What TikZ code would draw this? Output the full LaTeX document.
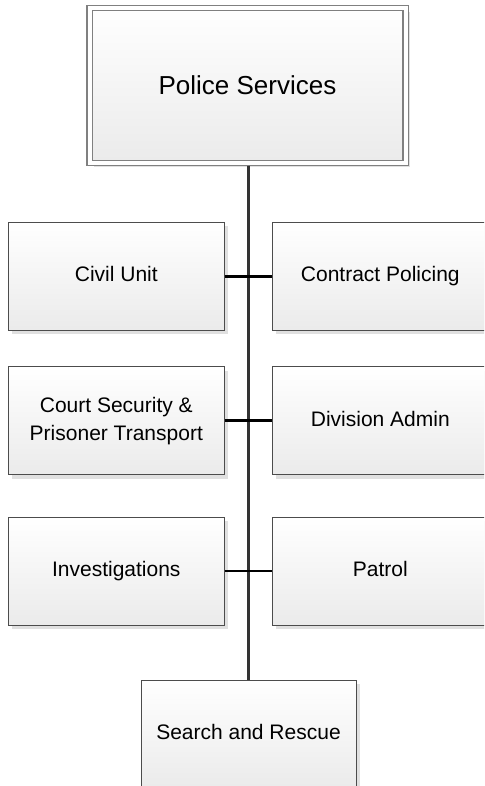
\documentclass[tikz,border=0pt]{standalone}
\usepackage{fontspec}
\setmainfont{Liberation Sans}
\usetikzlibrary{positioning, shadows, calc}

\tikzset{
  unit/.style={draw=black!70, line width=1pt, top color=white, bottom color=black!8,
    minimum width=216pt, minimum height=108pt, inner sep=0pt, align=center,
    font=\fontsize{21}{28}\selectfont, text depth=4pt,
    drop shadow={shadow xshift=4pt, shadow yshift=-4pt, fill=black!12, opacity=1}},
  head/.style={unit, draw=black!50, line width=1.2pt, double=white, double distance=4pt,
    minimum width=316pt, minimum height=155pt, outer sep=2.6pt, text depth=0pt,
    font=\fontsize{26}{30}\selectfont},
  trunk/.style={draw=black!80, line width=2.6pt},
  branch/.style={draw=black, line width=2.8pt}
}

\begin{document}
\begin{tikzpicture}[x=1pt, y=-1pt]
  \useasboundingbox (0,0) rectangle (484,786);
  \begin{scope}
  \clip (0,0) rectangle (484,786);
  % Nodes
  \node[head] (police) at (247.5,85.5) {Police Services};
  \foreach \n/\y/\txt in {1/276.2/Civil Unit, 2/420.5/Court Security \&\\Prisoner Transport, 3/571/Investigations}
    \node[unit] (left\n) at (116.3,\y) {\txt};
  \foreach \n/\y/\txt in {1/276.2/Contract Policing, 2/420.5/Division Admin, 3/571/Patrol}
    \node[unit] (right\n) at (380.3,\y) {\txt};
  \node[unit, minimum width=215pt] (rescue) at (248.5,734) {Search and Rescue};

  % Lines
  \draw[trunk] (police.south -| rescue) -- (rescue.north);
  \foreach \n in {1,2,3}
    \draw[branch] (left\n.east) -- (right\n.west);
  \end{scope}
\end{tikzpicture}
\end{document}
